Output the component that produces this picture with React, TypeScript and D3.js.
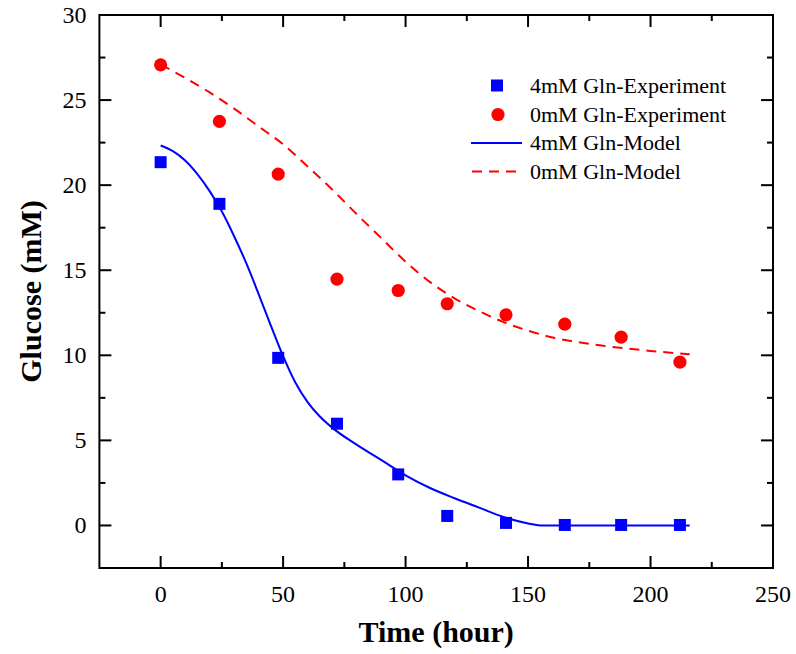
import * as d3 from 'd3';

// experiment time points (hour)
const expTimes = [0, 24, 48, 72, 97, 117, 141, 165, 188, 212];
const gln4Exp = [21.35, 18.9, 9.85, 5.98, 3.0, 0.56, 0.15, 0.03, 0.03, 0.03];
const gln0Exp = [27.07, 23.75, 20.65, 14.48, 13.81, 13.03, 12.38, 11.83, 11.07, 9.6];

// model curves
const gln4ModelT = [0, 5, 10, 15, 20, 25, 30, 35, 40, 45, 50, 55, 60, 65, 70, 80, 90, 100, 110, 120, 130, 140, 150, 155, 216];
const gln4ModelY = [22.33, 22.0, 21.45, 20.65, 19.65, 18.45, 17.0, 15.4, 13.6, 11.75, 9.95, 8.4, 7.25, 6.4, 5.75, 4.75, 3.85, 2.95, 2.2, 1.6, 1.05, 0.5, 0.12, 0, 0];
const gln0ModelT = [0, 10, 20, 30, 40, 50, 60, 70, 80, 90, 100, 110, 120, 130, 140, 150, 160, 170, 180, 190, 200, 210, 216];
const gln0ModelY = [27.1, 26.3, 25.45, 24.5, 23.45, 22.4, 21.1, 19.75, 18.3, 16.9, 15.5, 14.3, 13.35, 12.6, 11.95, 11.45, 11.05, 10.78, 10.57, 10.4, 10.26, 10.13, 10.06];

const xTicks = [0, 50, 100, 150, 200, 250];
const yTicks = [0, 5, 10, 15, 20, 25, 30];
const legendLabels = ['4mM Gln-Experiment', '0mM Gln-Experiment', '4mM Gln-Model', '0mM Gln-Model'];

const W = 796;
const H = 654;
const margin = { top: 15, right: 23, bottom: 86, left: 99.4 };
const font = '"Liberation Serif", "Times New Roman", serif';

const App = () => {
    const x = d3.scaleLinear().domain([-25, 250]).range([margin.left, W - margin.right]);
    const y = d3.scaleLinear().domain([-2.5, 30]).range([H - margin.bottom, margin.top]);
    const [x0, x1] = x.range();
    const [y0, y1] = y.range();

    const xMinor = xTicks.map(d => d + 25).filter(d => d < 250);
    const yMinor = yTicks.map(d => d + 2.5).filter(d => d < 30);

    const line = d3.line<[number, number]>()
        .x(d => x(d[0]))
        .y(d => y(d[1]))
        .curve(d3.curveMonotoneX);

    const blueLine = line(gln4ModelT.map((t, i) => [t, gln4ModelY[i]])) || '';
    const redLine = line(gln0ModelT.map((t, i) => [t, gln0ModelY[i]])) || '';

    const major = 12;
    const minor = 6;

    const legendX = 497;
    const legendY = [85.5, 114.5, 143, 171.5];

    return (
        <svg width={W} height={H} style={{ position: 'absolute', left: 0, top: 0, background: '#fff' }}>
            {/* ticks, mirrored on all four sides */}
            <g stroke="#000" strokeWidth={2}>
                {xTicks.map(d => (
                    <g key={'xt' + d}>
                        <line x1={x(d)} x2={x(d)} y1={y0} y2={y0 - major} />
                        <line x1={x(d)} x2={x(d)} y1={y1} y2={y1 + major} />
                    </g>
                ))}
                {xMinor.map(d => (
                    <g key={'xm' + d}>
                        <line x1={x(d)} x2={x(d)} y1={y0} y2={y0 - minor} />
                        <line x1={x(d)} x2={x(d)} y1={y1} y2={y1 + minor} />
                    </g>
                ))}
                {yTicks.map(d => (
                    <g key={'yt' + d}>
                        <line x1={x0} x2={x0 + major} y1={y(d)} y2={y(d)} />
                        <line x1={x1} x2={x1 - major} y1={y(d)} y2={y(d)} />
                    </g>
                ))}
                {yMinor.map(d => (
                    <g key={'ym' + d}>
                        <line x1={x0} x2={x0 + minor} y1={y(d)} y2={y(d)} />
                        <line x1={x1} x2={x1 - minor} y1={y(d)} y2={y(d)} />
                    </g>
                ))}
                <rect x={x0} y={y1} width={x1 - x0} height={y0 - y1} fill="none" />
            </g>

            {/* tick labels */}
            <g fontFamily={font} fontSize={24} fill="#000">
                {xTicks.map(d => (
                    <text key={'xl' + d} x={x(d)} y={y0 + 34} textAnchor="middle">{d}</text>
                ))}
                {yTicks.map(d => (
                    <text key={'yl' + d} x={x0 - 13} y={y(d) + 8} textAnchor="end">{d}</text>
                ))}
            </g>

            {/* axis titles */}
            <text x={(x0 + x1) / 2} y={642} textAnchor="middle" fontFamily={font} fontWeight="bold" fontSize={30}>
                Time (hour)
            </text>
            <text transform={`translate(41,${(y0 + y1) / 2}) rotate(-90)`} textAnchor="middle"
                fontFamily={font} fontWeight="bold" fontSize={30}>
                Glucose (mM)
            </text>

            {/* model curves */}
            <path d={blueLine} fill="none" stroke="#0000ff" strokeWidth={2} />
            <path d={redLine} fill="none" stroke="#ff0000" strokeWidth={2} strokeDasharray="10,7" />

            {/* experiment points */}
            {expTimes.map((t, i) => (
                <rect key={'sq' + i} x={x(t) - 6} y={y(gln4Exp[i]) - 6} width={12} height={12} fill="#0000ff" />
            ))}
            {expTimes.map((t, i) => (
                <circle key={'ci' + i} cx={x(t)} cy={y(gln0Exp[i])} r={6.6} fill="#ff0000" />
            ))}

            {/* legend */}
            <g fontFamily={font} fontSize={22}>
                <rect x={legendX - 6} y={legendY[0] - 6} width={12} height={12} fill="#0000ff" />
                <circle cx={legendX + 1} cy={legendY[1]} r={6.6} fill="#ff0000" />
                <line x1={471} x2={522} y1={legendY[2]} y2={legendY[2]} stroke="#0000ff" strokeWidth={2} />
                <line x1={472} x2={522} y1={legendY[3]} y2={legendY[3]} stroke="#ff0000" strokeWidth={2} strokeDasharray="10,7" />
                {legendLabels.map((s, i) => (
                    <text key={s} x={530} y={legendY[i] + 7} fill="#000">{s}</text>
                ))}
            </g>
        </svg>
    );
};

export default App;
